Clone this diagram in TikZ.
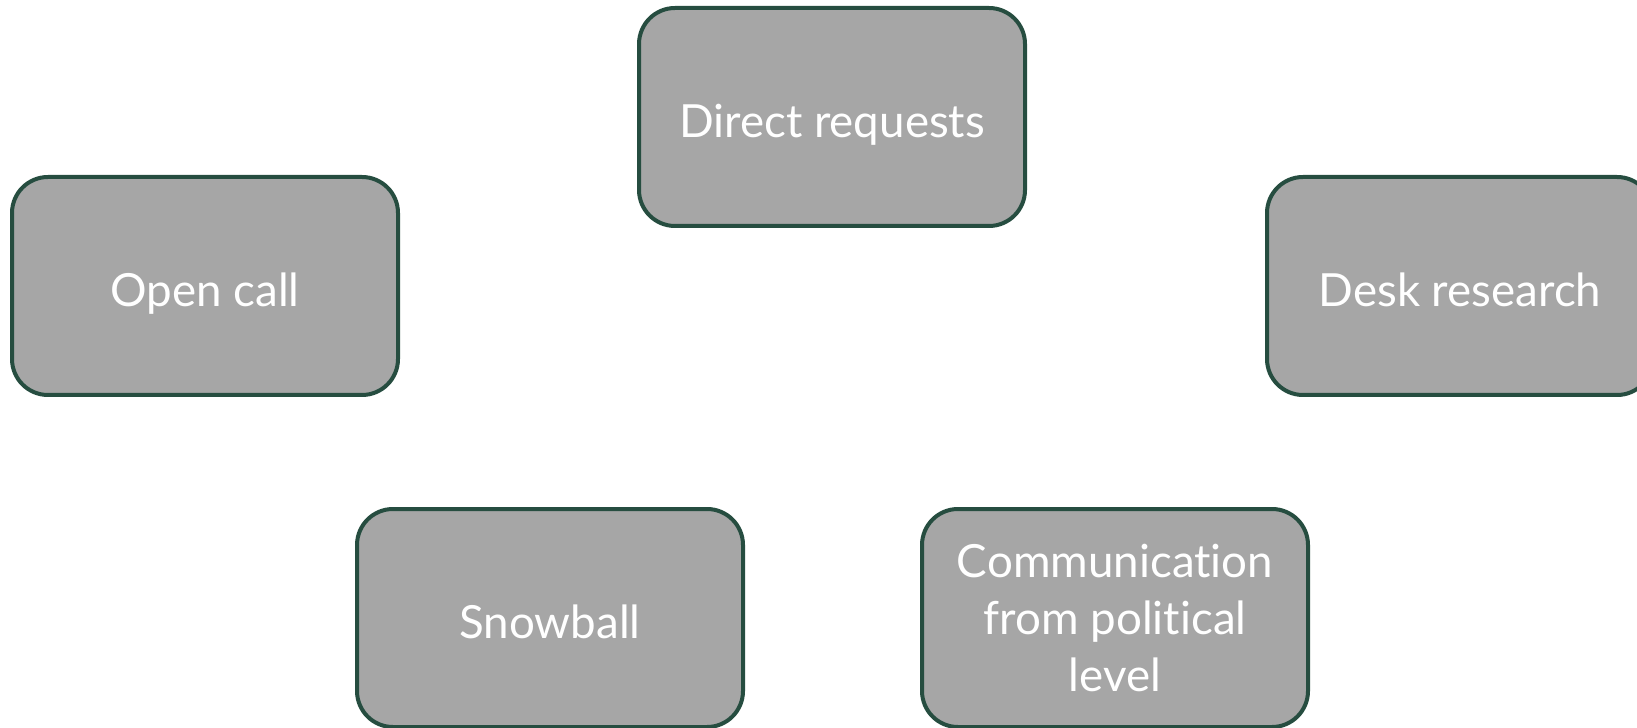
\documentclass[tikz,border=0pt]{standalone}
\usepackage{fontspec}
\setmainfont{Lato}[Ligatures={NoCommon}]
\definecolor{boxfill}{HTML}{A6A6A6}
\definecolor{boxline}{HTML}{264D40}
\begin{document}
\begin{tikzpicture}[
    every node/.style = {shape=rectangle, rounded corners=0.36cm,
    draw=boxline, fill=boxfill, line width=0.04cm, text=white,
    minimum width=3.86cm, minimum height=2.18cm, inner sep=0pt,
    align=center, font=\fontsize{13}{16.2}\selectfont},
    oneline/.style = {text height=11.9pt, text depth=0pt}]
    \useasboundingbox (0,0) rectangle (16.37,-7.28);
    \node[oneline] (direct) at (8.32,-1.17) {Direct requests};
    \node[oneline] (open) at (2.05,-2.86) {Open call};
    \node[oneline] (desk) at (14.60,-2.86) {Desk research};
    \node[oneline] (snow) at (5.50,-6.18) {Snowball};
    \node (comm) at (11.15,-6.18) {Communication\\from political\\level};
  \end{tikzpicture}
\end{document}
